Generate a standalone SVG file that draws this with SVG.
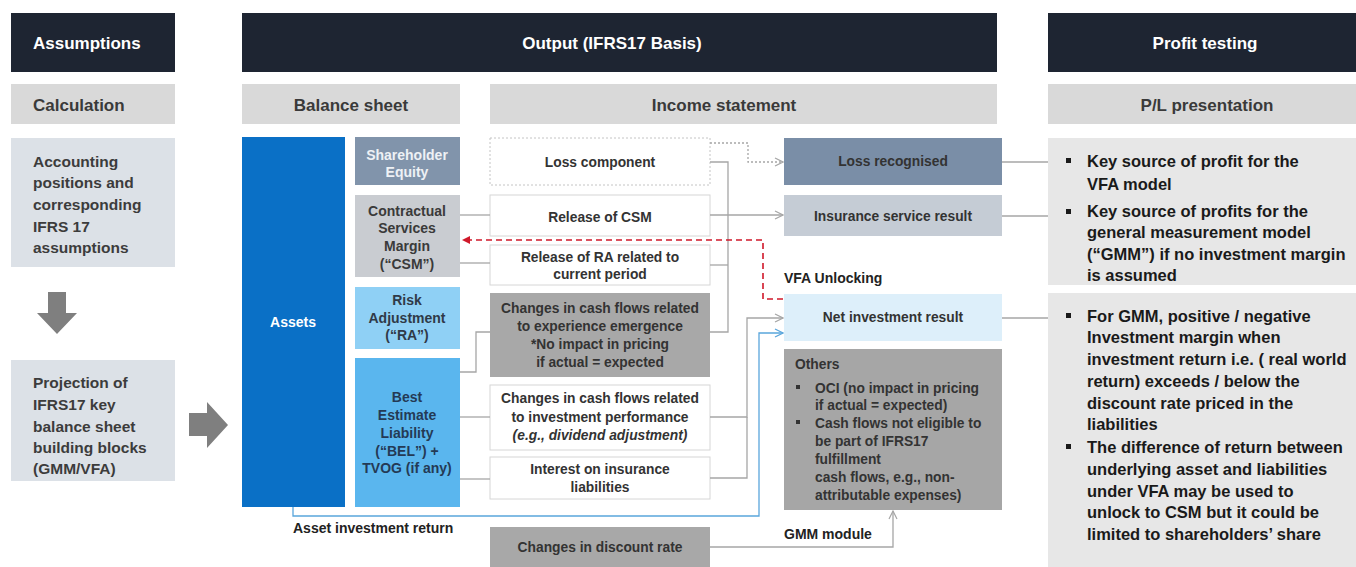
<svg xmlns="http://www.w3.org/2000/svg" width="1356" height="567" viewBox="0 0 1356 567">
<defs>
<style>
text{font-family:"Liberation Sans",Arial,sans-serif;font-weight:bold}
.hd{fill:#ffffff;font-size:17px}
.sh{fill:#3a3a3a;font-size:17px}
.lt{fill:#3c3c3c;font-size:15.5px}
.bs{font-size:14px;text-anchor:middle}
.is{fill:#333333;font-size:13.8px;text-anchor:middle}
.ot{fill:#333333;font-size:13.8px}
.pl{fill:#1a1a1a;font-size:16.5px}
.lbl{fill:#222222;font-size:14px}
.conn{fill:none;stroke:#a6a6a6;stroke-width:1.3}
.wbox{fill:#ffffff;stroke:#d6d6d6;stroke-width:1}
</style>
<marker id="chev" markerWidth="10" markerHeight="10" refX="9" refY="5" orient="auto" markerUnits="userSpaceOnUse"><path d="M1,1 L9,5 L1,9" fill="none" stroke="#a6a6a6" stroke-width="1.2"/></marker>
<marker id="chevb" markerWidth="10" markerHeight="10" refX="9" refY="5" orient="auto" markerUnits="userSpaceOnUse"><path d="M1,1 L9,5 L1,9" fill="none" stroke="#5aa6dc" stroke-width="1.3"/></marker>
<marker id="redh" markerWidth="10" markerHeight="10" refX="8" refY="4" orient="auto" markerUnits="userSpaceOnUse"><path d="M0,0 L8,4 L0,8 Z" fill="#d0182a"/></marker>
</defs>
<rect width="1356" height="567" fill="#ffffff"/>

<g id="headers">
<rect x="11" y="13" width="164" height="59" fill="#1e2532"/>
<text class="hd" x="33" y="49">Assumptions</text>
<rect x="242" y="13" width="755" height="59" fill="#1e2532"/>
<text class="hd" x="612" y="49" text-anchor="middle">Output (IFRS17 Basis)</text>
<rect x="1048" y="13" width="308" height="59" fill="#1e2532"/>
<text class="hd" x="1205" y="49" text-anchor="middle">Profit testing</text>
<rect x="11" y="84" width="164" height="40" fill="#d9d9d9"/>
<text class="sh" x="33" y="111">Calculation</text>
<rect x="242" y="84" width="218" height="40" fill="#d9d9d9"/>
<text class="sh" x="351" y="111" text-anchor="middle">Balance sheet</text>
<rect x="490" y="84" width="507" height="40" fill="#d9d9d9"/>
<text class="sh" x="724" y="111" text-anchor="middle">Income statement</text>
<rect x="1048" y="84" width="308" height="40" fill="#d9d9d9"/>
<text class="sh" x="1207" y="111" text-anchor="middle">P/L presentation</text>
</g>

<g id="node-accounting">
<rect x="11" y="138" width="164" height="129" fill="#dce1e7"/>
<text class="lt" x="33" y="167">Accounting</text>
<text class="lt" x="33" y="188">positions and</text>
<text class="lt" x="33" y="210">corresponding</text>
<text class="lt" x="33" y="232">IFRS 17</text>
<text class="lt" x="33" y="253">assumptions</text>
</g>
<g id="arrow-down"><polygon points="48,292 66,292 66,313 77,313 57,334 37,313 48,313" fill="#7f7f7f"/></g>
<g id="node-projection">
<rect x="11" y="360" width="164" height="121" fill="#dce1e7"/>
<text class="lt" x="33" y="388">Projection of</text>
<text class="lt" x="33" y="410">IFRS17 key</text>
<text class="lt" x="33" y="432">balance sheet</text>
<text class="lt" x="33" y="453">building blocks</text>
<text class="lt" x="33" y="474">(GMM/VFA)</text>
</g>
<g id="arrow-right"><polygon points="189,413 207,413 207,402 228,425 207,448 207,436 189,436" fill="#7f7f7f"/></g>

<g id="node-assets">
<rect x="242" y="137" width="103" height="370" fill="#0a70c6"/>
<text class="bs" x="293" y="327" fill="#ffffff">Assets</text>
</g>
<g id="node-equity">
<rect x="355" y="137" width="105" height="48" fill="#8194ab"/>
<text class="bs" x="407" y="160" fill="#eef1f5">Shareholder</text>
<text class="bs" x="407" y="177" fill="#eef1f5">Equity</text>
</g>
<g id="node-csm">
<rect x="355" y="195" width="105" height="82" fill="#c9ccd1"/>
<text class="bs" x="407" y="216" fill="#3a3a3a">Contractual</text>
<text class="bs" x="407" y="233" fill="#3a3a3a">Services</text>
<text class="bs" x="407" y="251" fill="#3a3a3a">Margin</text>
<text class="bs" x="407" y="269" fill="#3a3a3a">(“CSM”)</text>
</g>
<g id="node-ra">
<rect x="355" y="287" width="105" height="62" fill="#8fd0f5"/>
<text class="bs" x="407" y="305" fill="#2f3a48">Risk</text>
<text class="bs" x="407" y="323" fill="#2f3a48">Adjustment</text>
<text class="bs" x="407" y="340" fill="#2f3a48">(“RA”)</text>
</g>
<g id="node-bel">
<rect x="355" y="358" width="105" height="149" fill="#5ab6ee"/>
<text class="bs" x="407" y="402" fill="#243a55">Best</text>
<text class="bs" x="407" y="420" fill="#243a55">Estimate</text>
<text class="bs" x="407" y="438" fill="#243a55">Liability</text>
<text class="bs" x="407" y="456" fill="#243a55">(“BEL”) +</text>
<text class="bs" x="407" y="473" fill="#243a55">TVOG (if any)</text>
</g>

<g id="node-loss-component">
<rect x="490" y="138" width="220" height="47" fill="#ffffff" stroke="#c4c4c4" stroke-dasharray="2,2"/>
<text class="is" x="600" y="167">Loss component</text>
</g>
<g id="node-release-csm">
<rect class="wbox" x="490" y="195" width="220" height="41"/>
<text class="is" x="600" y="222">Release of CSM</text>
</g>
<g id="node-release-ra">
<rect class="wbox" x="490" y="245" width="220" height="40"/>
<text class="is" x="600" y="262">Release of RA related to</text>
<text class="is" x="600" y="279">current period</text>
</g>
<g id="node-experience">
<rect x="490" y="293" width="220" height="84" fill="#a8a8a8"/>
<text class="is" x="600" y="313">Changes in cash flows related</text>
<text class="is" x="600" y="331">to experience emergence</text>
<text class="is" x="600" y="349">*No impact in pricing</text>
<text class="is" x="600" y="367">if actual = expected</text>
</g>
<g id="node-investment-perf">
<rect class="wbox" x="490" y="385" width="220" height="65"/>
<text class="is" x="600" y="403">Changes in cash flows related</text>
<text class="is" x="600" y="422">to investment performance</text>
<text class="is" x="600" y="440" font-style="italic">(e.g., dividend adjustment)</text>
</g>
<g id="node-interest">
<rect class="wbox" x="490" y="457" width="220" height="42"/>
<text class="is" x="600" y="474">Interest on insurance</text>
<text class="is" x="600" y="492">liabilities</text>
</g>
<g id="node-discount">
<rect x="490" y="527" width="220" height="40" fill="#a8a8a8"/>
<text class="is" x="600" y="552">Changes in discount rate</text>
</g>

<g id="node-loss-recognised">
<rect x="784" y="138" width="218" height="47" fill="#7a8ea7"/>
<text class="is" x="893" y="166">Loss recognised</text>
</g>
<g id="node-insurance-service">
<rect x="784" y="195" width="218" height="41" fill="#c5ccd5"/>
<text class="is" x="893" y="221">Insurance service result</text>
</g>
<g id="node-net-investment">
<rect x="784" y="294" width="218" height="47" fill="#ddeffa"/>
<text class="is" x="893" y="322">Net investment result</text>
</g>
<g id="node-others">
<rect x="784" y="349" width="218" height="161" fill="#a6a6a6"/>
<text class="ot" x="795" y="369">Others</text>
<rect x="796" y="385" width="4" height="4" fill="#333333"/>
<text class="ot" x="815" y="393">OCI (no impact in pricing</text>
<text class="ot" x="815" y="410">if actual = expected)</text>
<rect x="796" y="420" width="4" height="4" fill="#333333"/>
<text class="ot" x="815" y="428">Cash flows not eligible to</text>
<text class="ot" x="815" y="446">be part of IFRS17</text>
<text class="ot" x="815" y="464">fulfillment</text>
<text class="ot" x="815" y="482">cash flows, e.g., non-</text>
<text class="ot" x="815" y="500">attributable expenses)</text>
</g>

<g id="node-pl-1">
<rect x="1048" y="138" width="308" height="147" fill="#e7e7e7"/>
<rect x="1066" y="158" width="5" height="5" fill="#1a1a1a"/>
<text class="pl" x="1087" y="167">Key source of profit for the</text>
<text class="pl" x="1087" y="190">VFA model</text>
<rect x="1066" y="209" width="5" height="5" fill="#1a1a1a"/>
<text class="pl" x="1087" y="217">Key source of profits for the</text>
<text class="pl" x="1087" y="238">general measurement model</text>
<text class="pl" x="1087" y="260">(“GMM”) if no investment margin</text>
<text class="pl" x="1087" y="281">is assumed</text>
</g>
<g id="node-pl-2">
<rect x="1048" y="293" width="308" height="274" fill="#e7e7e7"/>
<rect x="1066" y="313" width="5" height="5" fill="#1a1a1a"/>
<text class="pl" x="1087" y="322">For GMM, positive / negative</text>
<text class="pl" x="1087" y="343">Investment margin when</text>
<text class="pl" x="1087" y="365">investment return i.e. ( real world</text>
<text class="pl" x="1087" y="387">return) exceeds / below the</text>
<text class="pl" x="1087" y="409">discount rate priced in the</text>
<text class="pl" x="1087" y="430">liabilities</text>
<rect x="1066" y="444" width="5" height="5" fill="#1a1a1a"/>
<text class="pl" x="1087" y="453">The difference of return between</text>
<text class="pl" x="1087" y="475">underlying asset and liabilities</text>
<text class="pl" x="1087" y="497">under VFA may be used to</text>
<text class="pl" x="1087" y="518">unlock to CSM but it could be</text>
<text class="pl" x="1087" y="540">limited to shareholders’ share</text>
</g>

<g id="connectors">
<path class="conn" d="M460,215 H490"/>
<path class="conn" d="M460,263 H490"/>
<path class="conn" d="M460,372 H476 V332 H490"/>
<path class="conn" d="M460,417 H490"/>
<path class="conn" d="M460,479 H490"/>
<path class="conn" d="M710,143 H748 V162 H783" stroke-dasharray="2,2" marker-end="url(#chev)"/>
<path class="conn" d="M710,162 H728 V332 H710"/>
<path class="conn" d="M710,265 H728"/>
<path class="conn" d="M710,215 H783" marker-end="url(#chev)"/>
<path class="conn" d="M710,417 H747 V318 H783" marker-end="url(#chev)"/>
<path class="conn" d="M710,478 H747 V417"/>
<path class="conn" d="M710,547 H893 V511" marker-end="url(#chev)"/>
<path fill="none" stroke="#5aa6dc" stroke-width="1.3" d="M293,507 V516 H759 V333 H783" marker-end="url(#chevb)"/>
<path fill="none" stroke="#d0182a" stroke-width="1.6" stroke-dasharray="6,4" d="M783,299 H763 V240 H462" marker-end="url(#redh)"/>
<path class="conn" d="M1002,162 H1048"/>
<path class="conn" d="M1002,216 H1048"/>
<path class="conn" d="M1002,318 H1048"/>
<text class="lbl" x="784" y="283">VFA Unlocking</text>
<text class="lbl" x="784" y="539">GMM module</text>
<text class="lbl" x="293" y="533">Asset investment return</text>
</g>
</svg>
